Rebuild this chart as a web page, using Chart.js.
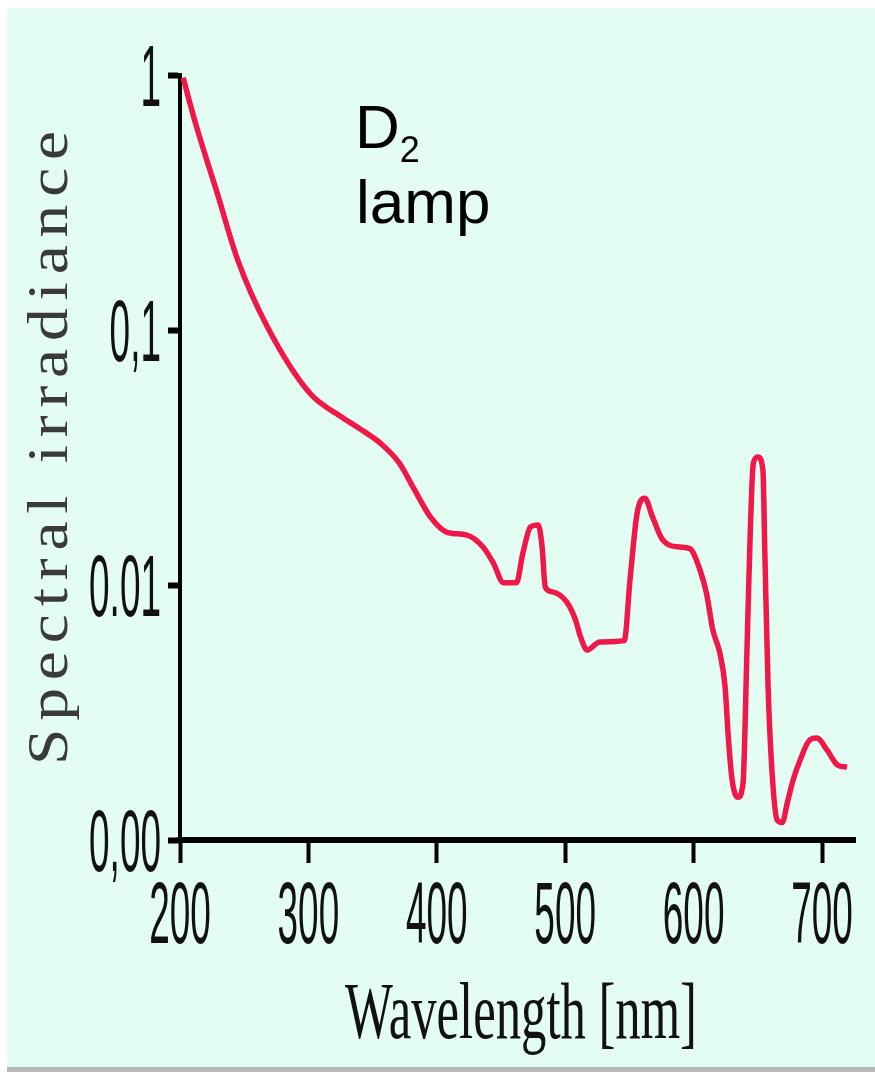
<!DOCTYPE html>
<html>
<head>
<meta charset="utf-8">
<script src="https://cdn.jsdelivr.net/npm/chart.js@4/dist/chart.umd.min.js"></script>
<style>
    body { margin: 0; background: #ffffff; }
    #wrap { position: relative; width: 875px; height: 1072px; overflow: hidden; }
    #panel { position: absolute; left: 7px; top: 8px; width: 868px; height: 1059px; background: #e3fdf3; }
    #foot { position: absolute; left: 7px; top: 1067px; width: 868px; height: 5px; background: #b8b8b8; }
    #mainChart { position: absolute; left: 0; top: 0; }
</style>
</head>
<body>
<div id="wrap">
    <div id="panel"></div>
    <div id="foot"></div>
    <canvas id="mainChart" width="875" height="1072"></canvas>
</div>
<script>
// ---------------- Data ----------------
const wavelength = [
    202.5, 207, 214, 229, 245, 268, 301, 327, 340,
    356, 371, 381.5, 395, 408, 423.5, 436, 444, 452, 462,
    467, 473, 479, 482, 484.5, 490, 501, 508, 512, 517,
    527, 546, 550.5, 556, 562, 568, 576, 589, 597, 605,
    610, 615, 620.5, 624.5, 627, 630, 634.5, 638.5, 641.5, 644,
    646.5, 650, 654, 655.5, 658, 661, 665, 669, 673, 677.5,
    683, 690.5, 696, 704, 712, 719.5
];
const irradiance = [
    0.975, 0.8, 0.6, 0.344, 0.188, 0.103, 0.0566, 0.0452, 0.041,
    0.036, 0.030, 0.0242, 0.0185, 0.0161, 0.0157, 0.0141, 0.0122, 0.0102, 0.0102,
    0.0133, 0.0169, 0.0172, 0.0141, 0.0098, 0.0094, 0.0086, 0.0073, 0.00625, 0.00556,
    0.00598, 0.00605, 0.0105, 0.0191, 0.0219, 0.0185, 0.015, 0.0141, 0.0139, 0.01145,
    0.0093, 0.00666, 0.0054, 0.0040, 0.00254, 0.00172, 0.00147, 0.00167, 0.0054, 0.0154,
    0.030, 0.0318, 0.0282, 0.0133, 0.0040, 0.00188, 0.0012, 0.00117, 0.0014, 0.00172,
    0.00206, 0.00247, 0.00251, 0.00225, 0.00197, 0.00193
];

const xTicks = [200, 300, 400, 500, 600, 700];
const xTickLabels = ["200", "300", "400", "500", "600", "700"];
const yTicks = [1, 0.1, 0.01, 0.001];
const yTickLabels = ["1", "0,1", "0.01", "0,00"];


// ---------------- Text helpers ----------------
function squeezedText(ctx, text, x, y, sx, font, align) {
    ctx.save();
    ctx.translate(x, y);
    ctx.scale(sx, 1);
    ctx.font = font;
    ctx.textAlign = align;
    ctx.textBaseline = "alphabetic";
    ctx.fillText(text, 0, 0);
    ctx.restore();
}

const labelPlugin = {
    id: "labelPlugin",
    afterDraw(chart) {
        const { ctx, scales: { x, y } } = chart;
        ctx.save();

        // tick labels, tall & narrow like the scan
        ctx.fillStyle = "#111111";
        yTicks.forEach((v, i) => {
            squeezedText(ctx, yTickLabels[i], 161, y.getPixelForValue(v) + 31, 0.42, '88px "Liberation Sans"', "right");
        });
        xTicks.forEach((v, i) => {
            squeezedText(ctx, xTickLabels[i], x.getPixelForValue(v), 943, 0.42, '88px "Liberation Sans"', "center");
        });

        // x title
        ctx.font = '80px "Liberation Serif"';
        const xt = "Wavelength [nm]";
        const xw = ctx.measureText(xt).width;
        ctx.fillStyle = "#111111";
        squeezedText(ctx, xt, 521, 1038, 352 / xw, '80px "Liberation Serif"', "center");

        // y title, rotated, spaced out
        ctx.save();
        ctx.translate(67, 444);
        ctx.rotate(-Math.PI / 2);
        ctx.font = '58px "Liberation Serif"';
        if ("letterSpacing" in ctx) ctx.letterSpacing = "7px";
        const yt = "Spectral irradiance";
        const yw = ctx.measureText(yt).width;
        ctx.scale(642 / yw, 1);
        ctx.fillStyle = "#3a3a3a";
        ctx.textAlign = "center";
        ctx.textBaseline = "alphabetic";
        ctx.fillText(yt, 0, 0);
        ctx.restore();

        // D2 lamp label
        ctx.fillStyle = "#000000";
        ctx.textAlign = "left";
        ctx.textBaseline = "alphabetic";
        ctx.font = '62px "Liberation Sans"';
        ctx.fillText("D", 355, 148);
        const dw = ctx.measureText("D").width;
        ctx.fillText("lamp", 356, 223);
        ctx.font = '36px "Liberation Sans"';
        ctx.fillText("2", 355 + dw, 162);

        ctx.restore();
    }
};


// ---------------- Chart Init ----------------
const ctx = document.getElementById("mainChart").getContext("2d");

new Chart(ctx, {
    type: "line",
    data: {
        datasets: [{
            data: wavelength.map((w, i) => ({ x: w, y: irradiance[i] })),
            borderColor: "#f01848",
            borderWidth: 5.5,
            pointRadius: 0,
            fill: false,
            cubicInterpolationMode: "monotone",
            clip: false
        }]
    },
    options: {
        responsive: false,
        animation: false,
        devicePixelRatio: 1,
        layout: { padding: { left: 168, top: 75, right: 20, bottom: 209 } },
        plugins: { legend: { display: false }, tooltip: { enabled: false } },
        scales: {
            x: {
                type: "linear",
                min: 200,
                max: 725.7,
                afterBuildTicks: s => { s.ticks = xTicks.map(v => ({ value: v })); },
                ticks: { display: false },
                grid: { drawOnChartArea: false, drawTicks: true, tickLength: 23, tickWidth: 4, color: "#000" },
                border: { display: true, width: 6, color: "#000" }
            },
            y: {
                type: "logarithmic",
                min: 0.001,
                max: 1,
                afterBuildTicks: s => { s.ticks = yTicks.map(v => ({ value: v })); },
                ticks: { display: false },
                grid: { drawOnChartArea: false, drawTicks: true, tickLength: 12, tickWidth: 6, color: "#000" },
                border: { display: true, width: 4, color: "#000" }
            }
        }
    },
    plugins: [labelPlugin]
});
</script>
</body>
</html>
